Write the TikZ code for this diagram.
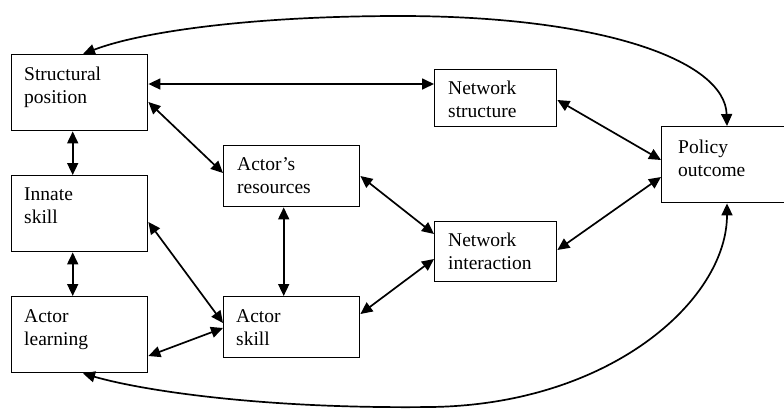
\documentclass[tikz,border=0pt]{standalone}
\usepackage{fontspec}
\setmainfont{Liberation Serif}
\usetikzlibrary{arrows.meta,calc}
\newcommand\twolines[2]{\vtop{\hbox{#1}\hbox{#2}}}
\begin{document}
\begin{tikzpicture}[x=1pt,y=-1pt,
  box/.style={draw, line width=1.4pt, rectangle, inner sep=0pt, anchor=north west},
  lbl/.style={anchor=base west, inner sep=0pt, font=\fontsize{19.5}{23}\selectfont},
  link/.style={line width=1.7pt, {Triangle[length=12pt,width=11pt]}-{Triangle[length=12pt,width=11pt]}}]
\useasboundingbox (0,0) rectangle (784,408);
% boxes
\node[box, minimum width=136pt, minimum height=76pt] (sp) at (11,54) {};
\node[box, minimum width=136pt, minimum height=76pt] (is) at (11,175) {};
\node[box, minimum width=136pt, minimum height=76pt] (al) at (11,296) {};
\node[box, minimum width=136pt, minimum height=61pt] (ar) at (223,145) {};
\node[box, minimum width=136pt, minimum height=61pt] (as) at (223,296) {};
\node[box, minimum width=122pt, minimum height=57pt] (ns) at (434,69) {};
\node[box, minimum width=122pt, minimum height=60pt] (ni) at (434,221) {};
\node[box, minimum width=135pt, minimum height=76pt] (po) at (661,126) {};
% labels
\node[lbl] (spt) at ($(sp.north west)+(13,26)$) {\twolines{Structural}{position}};
\node[lbl] (ist) at ($(is.north west)+(13,25)$) {\twolines{Innate}{skill}};
\node[lbl] (alt) at ($(al.north west)+(13,26)$) {\twolines{Actor}{learning}};
\node[lbl] (art) at ($(ar.north west)+(14,25)$) {\twolines{Actor’s}{resources}};
\node[lbl] (ast) at ($(as.north west)+(13,26)$) {\twolines{Actor}{skill}};
\node[lbl] (nst) at ($(ns.north west)+(14,25)$) {\twolines{Network}{structure}};
\node[lbl] (nit) at ($(ni.north west)+(14,25)$) {\twolines{Network}{interaction}};
\node[lbl] (pot) at ($(po.north west)+(17,27)$) {\twolines{Policy}{outcome}};
% connectors
\draw[link] ([yshift=-30pt]sp.north east) -- ([yshift=-15pt]ns.north west);
\draw[link] ([yshift=-48pt]sp.north east) -- ([yshift=-28pt]ar.north west);
\draw[link] ([xshift=-7pt]sp.south) -- ([xshift=-7pt]is.north);
\draw[link] ([xshift=-7pt]is.south) -- ([xshift=-7pt]al.north);
\draw[link] ([yshift=-47pt]is.north east) -- ([yshift=-27pt]as.north west);
\draw[link] ([yshift=-60pt]al.north east) -- ([yshift=-32pt]as.north west);
\draw[link] ([xshift=-8pt]ar.south) -- ([xshift=-8pt]as.north);
\draw[link] ([yshift=-31pt]ar.north east) -- ([yshift=-13pt]ni.north west);
\draw[link] ([yshift=-18pt]as.north east) -- ([yshift=-38pt]ni.north west);
\draw[link] ([yshift=-31pt]ns.north east) -- ([yshift=-34pt]po.north west);
\draw[link] ([yshift=-29pt]ni.north east) -- ([yshift=-51pt]po.north west);
\draw[link] ([xshift=66pt]po.north west) .. controls (725,60) and (600,16) .. (400,16)
  .. controls (250,16) and (140,32) .. ([xshift=72pt]sp.north west);
\draw[link] ([xshift=66pt]po.south west) .. controls (727,300) and (610,405) .. (430,407)
  .. controls (260,409) and (140,390) .. ([xshift=72pt]al.south west);
\end{tikzpicture}
\end{document}
